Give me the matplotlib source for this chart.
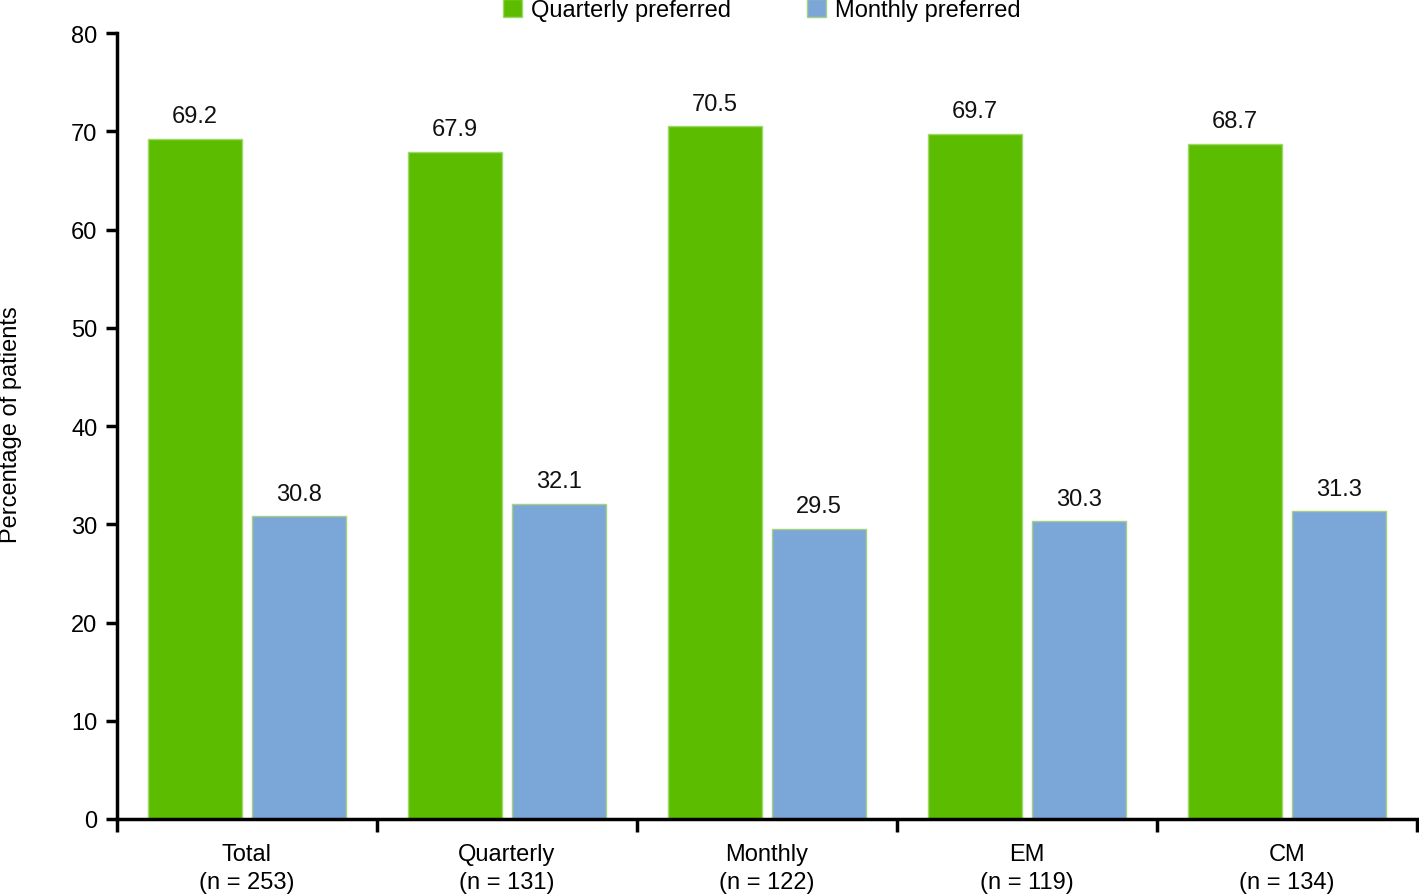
import matplotlib.pyplot as plt
import numpy as np

groups = ['Total', 'Quarterly', 'Monthly', 'EM', 'CM']
group_n = [253, 131, 122, 119, 134]
quarterly_pref = [69.2, 67.9, 70.5, 69.7, 68.7]
monthly_pref = [30.8, 32.1, 29.5, 30.3, 31.3]

plt.rcParams['font.family'] = ['Liberation Sans', 'DejaVu Sans']

green = '#5cbd00'
blue = '#7aa6d8'
fs = 17

fig = plt.figure(figsize=(14.19, 8.95), dpi=100)
ax = fig.add_axes([117 / 1419, 1 - 820 / 895, 1300 / 1419, 786 / 895])

x = np.arange(len(groups))
w = 0.36
b1 = ax.bar(x - 0.2, quarterly_pref, w, color=green, edgecolor='#9fd86a', linewidth=1,
            label='Quarterly preferred')
b2 = ax.bar(x + 0.2, monthly_pref, w, color=blue, edgecolor='#a8d080', linewidth=1,
            label='Monthly preferred')

for bars, vals in ((b1, quarterly_pref), (b2, monthly_pref)):
    for r, v in zip(bars, vals):
        ax.text(r.get_x() + r.get_width() / 2, v + 1.2, f'{v:.1f}',
                ha='center', va='bottom', fontsize=fs, color='#111111')

ax.set_xlim(-0.5, len(groups) - 0.5)
ax.set_ylim(0, 80)
ax.set_yticks(range(0, 81, 10))
ax.tick_params(axis='y', labelsize=fs, length=8, width=2.5, pad=6)

ax.set_xticks(np.arange(-0.5, len(groups)), labels=[])
ax.tick_params(axis='x', which='major', length=9, width=2.5)
ax.set_xticks(x, labels=[f'{g}\n(n = {n})' for g, n in zip(groups, group_n)], minor=True)
ax.tick_params(axis='x', which='minor', length=0, labelsize=fs, pad=17)
for t in ax.get_xticklabels(minor=True):
    t.set_linespacing(1.35)

for s in ('top', 'right'):
    ax.spines[s].set_visible(False)
for s in ('left', 'bottom'):
    ax.spines[s].set_linewidth(2.5)

fig.text(11 / 1419, 1 - 425 / 895, 'Percentage of patients', rotation=90,
         ha='center', va='center', fontsize=fs)

fig.legend(handles=[b1, b2], loc='upper center', bbox_to_anchor=(0.537, 1.024), ncol=2,
           frameon=False, fontsize=fs, handlelength=0.8, handleheight=0.8,
           columnspacing=3.2, handletextpad=0.4)

fig.savefig('out.png', dpi=100)
